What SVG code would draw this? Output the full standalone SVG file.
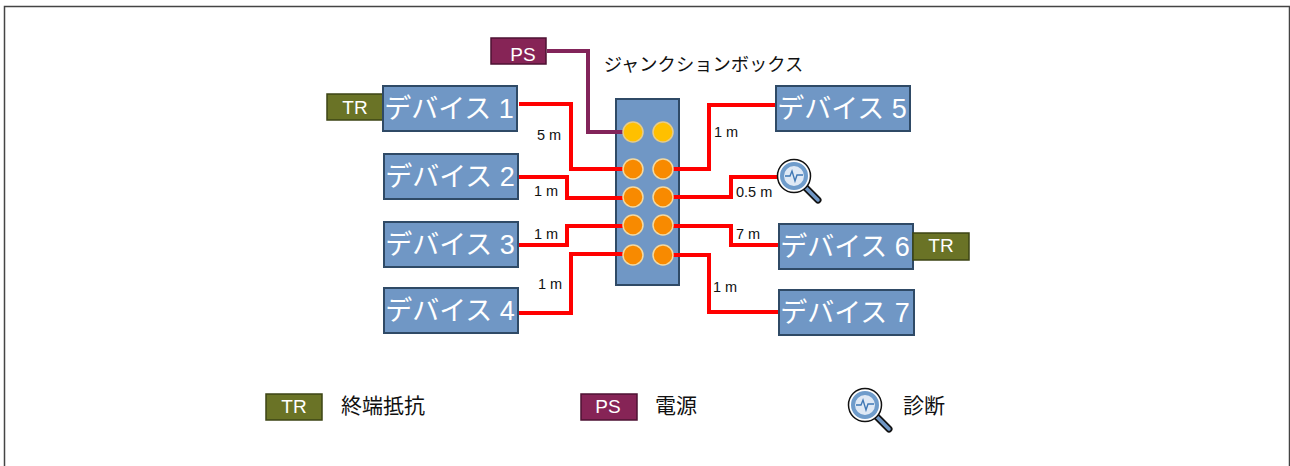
<svg xmlns="http://www.w3.org/2000/svg" width="1290" height="466" viewBox="0 0 1290 466">
<style>
text{font-family:"Liberation Sans","Noto Sans CJK JP",sans-serif}
.dev{fill:#7097c5;stroke:#2f4a66;stroke-width:2}
.devt{fill:#fff;font-size:27px;text-anchor:middle}
.tr{fill:#6a7326;stroke:#3c4414;stroke-width:1.500}
.ps{fill:#862456;stroke:#4d1233;stroke-width:1.500}
.tag{fill:#fff;font-size:19px;text-anchor:middle}
.lab{fill:#111;font-size:14.500px}
.leg{fill:#111;font-size:21px}
.w{fill:none;stroke:#f00;stroke-width:4}
.p{fill:none;stroke:#82245a;stroke-width:4}
.o{fill:#f88a00;stroke:#f3d9a0;stroke-width:1.500}
.y{fill:#ffc000;stroke:#e8cc88;stroke-width:1.500}
</style>
<defs>
<g id="mag">
<path d="M11 11L24 24" stroke="#111" stroke-width="7" stroke-linecap="round"/>
<path d="M11 11L24 24" stroke="#7097c5" stroke-width="3.500" stroke-linecap="round"/>
<circle cx="0" cy="0" r="16.500" fill="#fff" stroke="#111" stroke-width="1.500"/>
<circle cx="0" cy="0" r="12" fill="#dfe9f5" stroke="#6f9ccb" stroke-width="4"/>
<path d="M-9 0H-4L-2 -5L1 5L3 -1H9" fill="none" stroke="#3f78b5" stroke-width="1.400"/>
</g>
</defs>
<path d="M4.500 466V6.500H1289.500V466" fill="none" stroke="#444" stroke-width="1.500"/>
<g id="junction-body"><rect x="616" y="99" width="63" height="186" class="dev"/></g>
<g id="connectors">
<path class="p" d="M547 51H588V132H626"/>
<path class="w" d="M519 104H571V169H626"/>
<path class="w" d="M519 177H567V198H626"/>
<path class="w" d="M519 245H567V226H626"/>
<path class="w" d="M519 313H571V254H626"/>
<path class="w" d="M670 169H709V105H776"/>
<path class="w" d="M670 197H731V177H778"/>
<path class="w" d="M670 226H731V245H779"/>
<path class="w" d="M670 255H709V312H779"/>
</g>
<g id="junction-ports">
<circle cx="633" cy="132" r="10" class="y"/><circle cx="663" cy="132" r="10" class="y"/>
<circle cx="633" cy="169" r="10" class="o"/><circle cx="663" cy="169" r="10" class="o"/>
<circle cx="633" cy="197" r="10" class="o"/><circle cx="663" cy="197" r="10" class="o"/>
<circle cx="633" cy="225" r="10" class="o"/><circle cx="663" cy="225" r="10" class="o"/>
<circle cx="633" cy="255" r="10" class="o"/><circle cx="663" cy="255" r="10" class="o"/>
</g>
<text x="703.500" y="71" style="font-size:18.300px" fill="#111" text-anchor="middle">ジャンクションボックス</text>
<g id="ps-top"><rect x="491" y="38" width="55" height="26" class="ps"/><text x="523" y="61" class="tag">PS</text></g>
<g id="tr-1"><rect x="327" y="94" width="56" height="26" class="tr"/><text x="355" y="114" class="tag">TR</text></g>
<g id="device-1"><rect x="383" y="86" width="134" height="45" class="dev"/><text x="449" y="118" class="devt">デバイス 1</text></g>
<g id="device-2"><rect x="384" y="154" width="134" height="45" class="dev"/><text x="450" y="186" class="devt">デバイス 2</text></g>
<g id="device-3"><rect x="384" y="222" width="134" height="45" class="dev"/><text x="450" y="254" class="devt">デバイス 3</text></g>
<g id="device-4"><rect x="384" y="288" width="134" height="45" class="dev"/><text x="450" y="320" class="devt">デバイス 4</text></g>
<g id="device-5"><rect x="776" y="86" width="134" height="45" class="dev"/><text x="842" y="118" class="devt">デバイス 5</text></g>
<g id="device-6"><rect x="779" y="224" width="134" height="45" class="dev"/><text x="845" y="256" class="devt">デバイス 6</text></g>
<g id="device-7"><rect x="779" y="290" width="135" height="45" class="dev"/><text x="845" y="322" class="devt">デバイス 7</text></g>
<g id="tr-6"><rect x="913" y="233" width="56" height="27" class="tr"/><text x="941" y="252" class="tag">TR</text></g>
<g id="diag-top"><use href="#mag" x="794" y="176"/></g>
<g id="labels">
<text x="537" y="140" class="lab">5 m</text>
<text x="534" y="196" class="lab">1 m</text>
<text x="534" y="239" class="lab">1 m</text>
<text x="538" y="289" class="lab">1 m</text>
<text x="714" y="137" class="lab">1 m</text>
<text x="736" y="197" class="lab">0.5 m</text>
<text x="736" y="239" class="lab">7 m</text>
<text x="713" y="292" class="lab">1 m</text>
</g>
<g id="legend-tr"><rect x="266" y="394" width="56" height="26" class="tr"/><text x="294" y="413" class="tag">TR</text><text x="341" y="413" class="leg">終端抵抗</text></g>
<g id="legend-ps"><rect x="581" y="394" width="56" height="26" class="ps"/><text x="608" y="413" class="tag">PS</text><text x="655" y="413" class="leg">電源</text></g>
<g id="legend-diag"><use href="#mag" x="865" y="405"/><text x="903" y="413" class="leg">診断</text></g>
</svg>
